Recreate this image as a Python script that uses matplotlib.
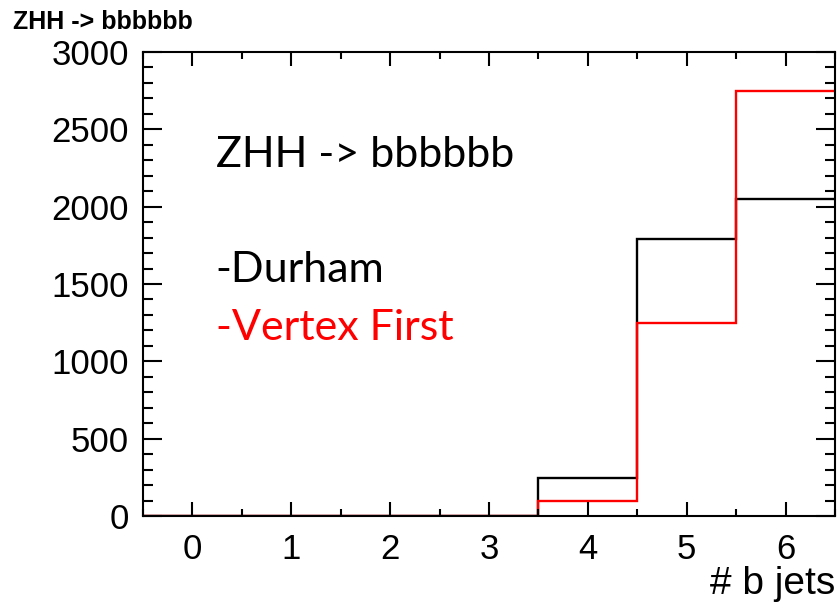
import numpy as np
import matplotlib.pyplot as plt
from matplotlib.ticker import MultipleLocator

# number of b jets per event, bins centred on 0..6
edges = np.arange(-0.5, 7.0, 1.0)
durham = [0, 0, 0, 0, 245, 1790, 2050]
vertex_first = [0, 0, 0, 0, 100, 1250, 2750]

fig = plt.figure(figsize=(8.39, 6.03), dpi=100)
ax = fig.add_axes([0.1704, 0.1443, 0.8248, 0.7695])

ax.stairs(durham, edges, color='black', lw=1.7, baseline=None)
ax.stairs(vertex_first, edges, color='red', lw=1.7, baseline=None)

ax.set_xlim(-0.5, 6.5)
ax.set_ylim(0, 3000)
ax.xaxis.set_major_locator(MultipleLocator(1))
ax.xaxis.set_minor_locator(MultipleLocator(0.5))
ax.yaxis.set_major_locator(MultipleLocator(500))
ax.yaxis.set_minor_locator(MultipleLocator(100))

ax.tick_params(axis='both', which='both', direction='in', top=True, right=True, width=1.5)
ax.tick_params(axis='y', which='major', length=14, pad=10)
ax.tick_params(axis='y', which='minor', length=7)
ax.tick_params(axis='x', which='major', length=10, pad=12)
ax.tick_params(axis='x', which='minor', length=5)
for s in ax.spines.values():
    s.set_linewidth(1.5)

for lab in ax.get_xticklabels() + ax.get_yticklabels():
    lab.set_fontfamily('Liberation Sans')
    lab.set_fontsize(25)

ax.set_xlabel('# b jets', fontsize=28, family='Liberation Sans')
ax.xaxis.set_label_coords(1.0, -0.146)
ax.xaxis.label.set_horizontalalignment('right')
ax.xaxis.label.set_verticalalignment('center')

fig.text(0.015, 0.963, 'ZHH -> bbbbbb', fontsize=18, fontweight='bold',
         family='Liberation Sans', va='center')

ax.text(0.105, 0.778, 'ZHH -> bbbbbb', transform=ax.transAxes, fontsize=31,
        family='Lato', va='center')
ax.text(0.105, 0.53, '-Durham', transform=ax.transAxes, fontsize=31,
        family='Lato', va='center')
ax.text(0.105, 0.405, '-Vertex First', transform=ax.transAxes, fontsize=31,
        family='Lato', va='center', color='red')

fig.savefig('out.png', dpi=100)
